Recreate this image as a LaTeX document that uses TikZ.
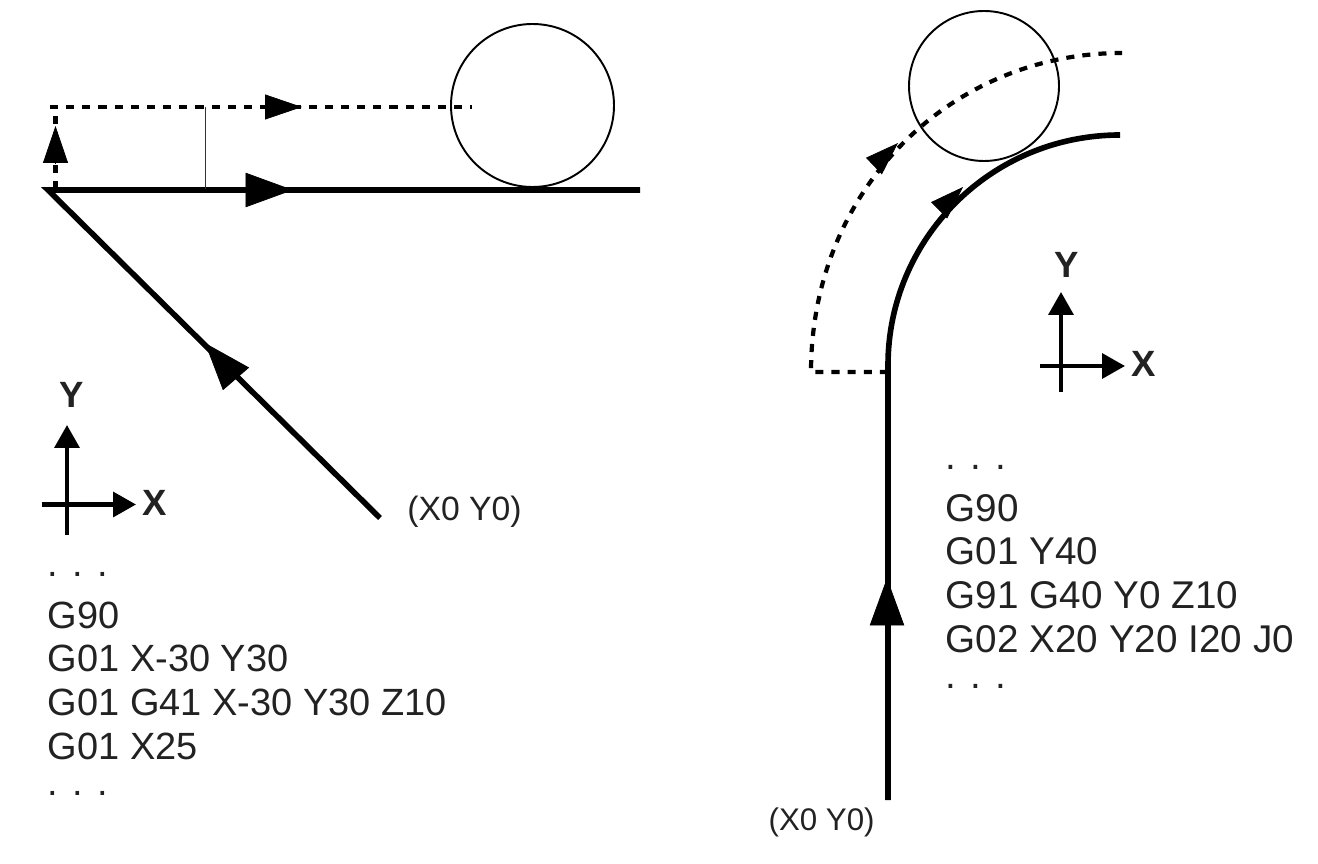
\documentclass[tikz,border=0pt]{standalone}
\usepackage{fontspec}
\setmainfont{Liberation Sans}
\usetikzlibrary{arrows.meta}
\definecolor{txt}{HTML}{222222}
\tikzset{
  toolpath/.style={line width=3.2pt, line cap=butt},
  offsetpath/.style={line width=2.4pt, dash pattern=on 4.6pt off 4.6pt},
  cutter/.style={line width=1.1pt},
  axisline/.style={line width=2.4pt},
  bighead/.style={-{Triangle[length=27pt,width=19.6pt]}},
  midhead/.style={-{Triangle[length=21pt,width=14.2pt]}},
  curvehead/.style={-{Triangle[length=19pt,width=13pt]}},
  smallhead/.style={-{Triangle[length=13pt,width=14pt]}},
  axislabel/.style={font=\bfseries\fontsize{20.8}{24}\selectfont, text=txt, inner sep=0pt},
  codeblock/.style={font=\fontsize{#1}{24.9}\selectfont, text=txt, align=left, anchor=north west, inner sep=0pt},
  startlabel/.style={font=\fontsize{#1}{20}\selectfont, text=txt, inner sep=0pt}
}
\begin{document}
\begin{tikzpicture}[x=0.02cm,y=-0.02cm]
\useasboundingbox (0,0) rectangle (1318,864);

%---------------- left panel: G41 approach -----------------
\coordinate (corner) at (48,190);
\coordinate (lineEnd) at (640,190);
\coordinate (start) at (380,518);
\coordinate (upBase) at (55.5,189);
\coordinate (upTop) at (55.5,112);
\coordinate (offsetStart) at (50,107);
\coordinate (offsetEnd) at (472,107);
\node[draw, circle, cutter, minimum size=163*0.02cm, inner sep=0pt] (tool) at (532.5,105.5) {};
\draw[toolpath] (start) -- (corner) -- (lineEnd);
\draw[offsetpath] (upBase) -- (upTop);
\draw[offsetpath] (offsetStart) -- (offsetEnd);
\draw[line width=0.5pt, black!80] (205,107) -- (205,189);
% heads sit on top of the paths
\draw[bighead] (245,190) -- (293,190);
\draw[bighead] (237,380) -- (205,343);
\draw[midhead] (55.5,163) -- (55.5,126);
\draw[midhead] (265,107) -- (302,107);
\node[startlabel=19.2, anchor=west] (startA) at (407,512) {(X0 Y0)};
% axes
\coordinate (ax) at (42,504.5);
\coordinate (ay) at (67,535);
\draw[axisline, smallhead] (ax) -- (136,504.5);
\draw[axisline, smallhead] (ay) -- (67,425);
\node[axislabel] (xA) at (155,503) {X};
\node[axislabel] (yA) at (72,395) {Y};
\node[codeblock=21.6] (codeA) at (47.5,572) {. . .\\[4.5pt]G90\\G01 X-30 Y30\\G01 G41 X-30 Y30 Z10\\G01 X25\\[-4.5pt]. . .};

%---------------- right panel: G40 retract -----------------
\coordinate (bottom) at (888,800);
\coordinate (bend) at (888,365);
\coordinate (arcEnd) at (1120,135);
\coordinate (dashStart) at (888,372);
\coordinate (dashCorner) at (811,372);
\coordinate (dashEnd) at (1122,53);
\node[draw, circle, cutter, minimum size=150*0.02cm, inner sep=0pt] (toolB) at (984,86) {};
\draw[toolpath] (bottom) -- (bend) .. controls (888,240) and (990,135) .. (arcEnd);
\draw[offsetpath] (dashStart) -- (dashCorner) .. controls (811,190) and (950,53) .. (dashEnd);
\draw[bighead] (887,621) -- (887,578);
\draw[curvehead] (939.5,210) -- (963,187);
\draw[curvehead] (874,166) -- (898,143);
\node[startlabel=17.8, anchor=east] (startB) at (875,822) {(X0 Y0)};
% axes
\coordinate (bx) at (1040,366);
\coordinate (by) at (1061,392);
\draw[axisline, smallhead] (bx) -- (1125,366);
\draw[axisline, smallhead] (by) -- (1061,292);
\node[axislabel] (xB) at (1144,364) {X};
\node[axislabel] (yB) at (1067,265) {Y};
\node[codeblock=22] (codeB) at (945.5,465) {. . .\\[4.5pt]G90\\G01 Y40\\G91 G40 Y0 Z10\\G02 X20 Y20 I20 J0\\[-4.5pt]. . .};

\end{tikzpicture}
\end{document}
